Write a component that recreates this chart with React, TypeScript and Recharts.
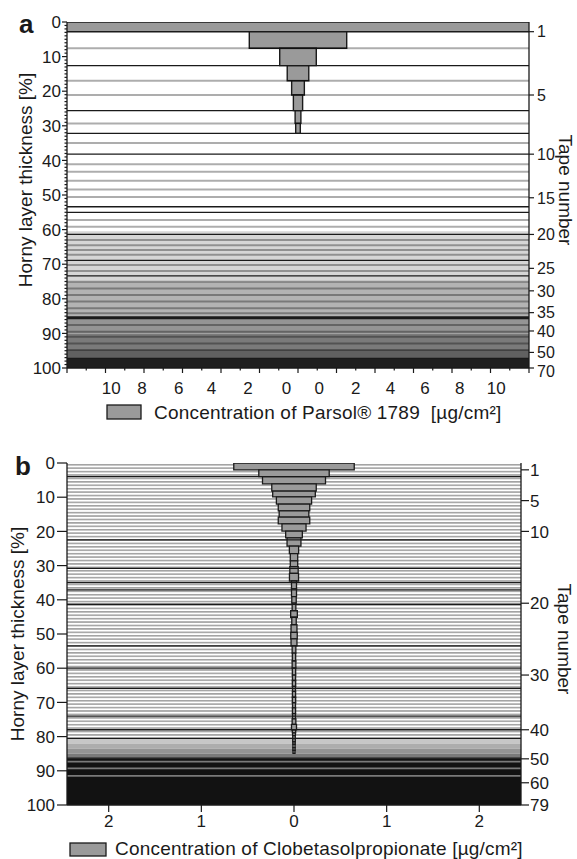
import { ComposedChart, XAxis, YAxis, ReferenceArea, ReferenceLine, Scatter } from 'recharts'

const FONT = '"Liberation Sans", Arial, Helvetica, sans-serif'
const INK = '#1a1a1a'
const BAR = '#9a9a9a'

// ---- panel a: Parsol 1789 ----
// cumulative horny layer thickness [%] at the end of each tape, and concentration per tape
const tapeEndA = [2.8, 7.6, 12.6, 17.0, 21.1, 25.6, 29.3, 32.2]
const concA = [13, 2.53, 0.95, 0.56, 0.33, 0.24, 0.15, 0.12]
const darkLinesA = [12.6, 25.6, 32.2, 38.2, 53.4, 55.0, 61.4, 68.9, 73.4, 97.2]
const heavyLinesA = [85.5]
const greyLinesA = [7.6, 17.0, 21.1, 29.3, 35.0, 41.1, 43.3, 45.9, 48.4, 50.6, 57.2, 59.2, 63.0, 64.5, 65.9, 67.3, 70.2, 72.0, 75.1, 77.0, 78.9, 80.8, 82.7, 84.2, 87.6, 89.5, 91.0, 92.9, 94.8]
const zoneFromA = [60.5, 75.0, 85.5, 90.0, 94.8, 97.2]
const zoneToA = [75.0, 85.5, 90.0, 94.8, 97.2, 100]
const zoneShadeA = [0.16, 0.3, 0.42, 0.52, 0.62, 0.88]
const depthTicks = [0, 10, 20, 30, 40, 50, 60, 70, 80, 90, 100]
const tapeTickDepthA = [2.8, 21.1, 38.2, 50.8, 61.4, 71.2, 77.7, 84.0, 89.3, 95.5, 100]
const tapeTickLabelA = ['1', '5', '10', '15', '20', '25', '30', '35', '40', '50', '70']
const concTickPosA = [-9.7, -8.1, -6.2, -4.5, -2.6, -0.6, 1.1, 3.0, 4.8, 6.6, 8.4, 10.3]
const concTickLabelA = ['10', '8', '6', '4', '2', '0', '0', '2', '4', '6', '8', '10']

// ---- panel b: Clobetasolpropionate ----
const tapeEndB = [2.0, 4.0, 6.1, 8.2, 9.9, 12.0, 14.0, 15.8, 17.8, 19.9, 21.9, 24.3, 26.5, 28.6, 30.3, 32.3, 34.5, 36.8, 39.1, 41.0, 43.2, 45.1, 47.3, 49.5, 51.4, 53.5, 55.6, 57.9, 60.0, 62.0, 63.6, 65.3, 66.8, 68.5, 70.1, 71.6, 73.3, 74.8, 76.4, 78.0, 78.9, 79.7, 80.6, 81.5, 82.3, 83.2, 84.0, 84.9]
const concB = [0.65, 0.38, 0.34, 0.24, 0.23, 0.19, 0.17, 0.16, 0.17, 0.13, 0.09, 0.075, 0.05, 0.04, 0.04, 0.045, 0.049, 0.027, 0.027, 0.024, 0.02, 0.036, 0.024, 0.032, 0.035, 0.032, 0.02, 0.018, 0.02, 0.018, 0.017, 0.018, 0.016, 0.017, 0.018, 0.016, 0.017, 0.016, 0.02, 0.027, 0.018, 0.015, 0.014, 0.014, 0.013, 0.012, 0.012, 0.011]
const darkLinesB = [4.0, 22.5, 30.8, 35.0, 37.1, 41.3, 53.5, 60.0, 65.9, 74.0, 78.0, 80.5, 86.3]
const lightLinesB = [87.3, 89.3, 91.5]
const stripedToB = 80.5
const zoneFromB = [80.5, 82.0, 83.5, 85.0, 86.3]
const zoneToB = [82.0, 83.5, 85.0, 86.3, 100]
const zoneShadeB = [0.22, 0.32, 0.42, 0.52, 0.93]
const tapeTickDepthB = [2.0, 11.0, 20.0, 41.0, 62.0, 78.0, 86.5, 93.5, 100]
const tapeTickLabelB = ['1', '5', '10', '20', '30', '40', '50', '60', '79']
const concTickPosB = [-2, -1, 0, 1, 2]
const concTickLabelB = ['2', '1', '0', '1', '2']

const rowsA = concA.map((c, i) => ({ conc: c, depth: tapeEndA[i] }))
const rowsB = concB.map((c, i) => ({ conc: c, depth: tapeEndB[i] }))

const grey = (s: number) => {
  const v = Math.round(255 * (1 - s))
  return `rgb(${v},${v},${v})`
}

function leftTick(labels: number[], majorLen: number, minorLen: number, gap: number) {
  return (p: any) => {
    const v = p.payload.value
    const major = labels.includes(v)
    return (
      <g>
        <line x1={p.x - (major ? majorLen : minorLen)} x2={p.x} y1={p.y} y2={p.y} stroke={INK} strokeWidth={1.2} />
        {major && (
          <text x={p.x - majorLen - gap} y={p.y} dy="0.36em" textAnchor="end" fontSize={17} fontFamily={FONT} fill={INK}>
            {v}
          </text>
        )}
      </g>
    )
  }
}

function rightTick(depths: number[], labels: string[], len: number, gap: number, size: number, lastShift: number) {
  return (p: any) => {
    const i = depths.indexOf(p.payload.value)
    const shift = i === depths.length - 1 ? lastShift : 0
    return (
      <g>
        <line x1={p.x} x2={p.x + len} y1={p.y} y2={p.y} stroke={INK} strokeWidth={1.2} />
        <text x={p.x + len + gap} y={p.y + shift} dy="0.36em" textAnchor="start" fontSize={size} fontFamily={FONT} fill={INK}>
          {labels[i]}
        </text>
      </g>
    )
  }
}

function bottomTick(majors: number[], minors: number[], labelPos: number[], labelText: string[], majorLen: number, minorLen: number, labelDy: number) {
  return (p: any) => {
    const v = p.payload.value
    const li = labelPos.indexOf(v)
    const len = majors.includes(v) ? majorLen : minors.includes(v) ? minorLen : 0
    return (
      <g>
        {len > 0 && <line x1={p.x} x2={p.x} y1={p.y} y2={p.y + len} stroke={INK} strokeWidth={1.2} />}
        {li >= 0 && (
          <text x={p.x} y={p.y + labelDy} dy="0.36em" textAnchor="middle" fontSize={17} fontFamily={FONT} fill={INK}>
            {labelText[li]}
          </text>
        )}
      </g>
    )
  }
}

// tick marks of panel a (labels sit a little off the marks in the original)
const marksMajorA = [-12, -10, -8, -6, -4, -2, 0, 2, 4, 6, 8, 10, 12]
const marksMinorA = [-11, -9, -7, -5, -3, -1, 1, 3, 5, 7, 9, 11]
const xTicksA = Array.from(new Set([...marksMajorA, ...marksMinorA, ...concTickPosA])).sort((a, b) => a - b)
const yMinorA = Array.from({ length: 101 }, (_, i) => i)

const noDot = () => <g />

function PanelA() {
  return (
    <ComposedChart width={577} height={400} data={rowsA} margin={{ top: 22, right: 8, bottom: 2, left: 27 }}>
      <XAxis dataKey="conc" type="number" domain={[-12, 12]} allowDataOverflow ticks={xTicksA} interval={0} height={30}
        tickSize={0} tickMargin={0} tickLine={false} axisLine={{ stroke: INK, strokeWidth: 1.3 }}
        tick={bottomTick(marksMajorA, marksMinorA, concTickPosA, concTickLabelA, 5, 2.5, 19.5)} />
      <YAxis dataKey="depth" type="number" domain={[0, 100]} reversed allowDataOverflow ticks={yMinorA} interval={0} width={40}
        tickSize={0} tickMargin={0} tickLine={false} axisLine={{ stroke: INK, strokeWidth: 1.3 }}
        tick={leftTick(depthTicks, 5, 2.5, 1)} />
      <YAxis yAxisId="tape" orientation="right" type="number" domain={[0, 100]} reversed allowDataOverflow
        ticks={tapeTickDepthA} interval={0} width={40} tickSize={0} tickMargin={0} tickLine={false}
        axisLine={{ stroke: INK, strokeWidth: 1.3 }} tick={rightTick(tapeTickDepthA, tapeTickLabelA, 5, 3, 16, 3)} />
      <Scatter dataKey="depth" shape={noDot} isAnimationActive={false} legendType="none" />

      {zoneFromA.map((f, i) => (
        <ReferenceArea key={'z' + i} x1={-12} x2={12} y1={f} y2={zoneToA[i]} fill={grey(zoneShadeA[i])} fillOpacity={1} stroke="none" ifOverflow="hidden" />
      ))}
      {greyLinesA.map((d) => (
        <ReferenceLine key={'g' + d} y={d} stroke="#000" strokeOpacity={0.32} strokeWidth={2} />
      ))}
      {darkLinesA.map((d) => (
        <ReferenceLine key={'d' + d} y={d} stroke={INK} strokeWidth={1.3} />
      ))}
      {heavyLinesA.map((d) => (
        <ReferenceLine key={'h' + d} y={d} stroke={INK} strokeWidth={3} />
      ))}
      {concA.map((c, i) => (
        <ReferenceArea key={'b' + i} x1={-c} x2={c} y1={i === 0 ? 0 : tapeEndA[i - 1]} y2={tapeEndA[i]}
          fill={BAR} fillOpacity={1} stroke={INK} strokeWidth={1.4} ifOverflow="hidden" />
      ))}
    </ComposedChart>
  )
}

function PanelB() {
  return (
    <ComposedChart width={577} height={400} data={rowsB} margin={{ top: 23, right: 8, bottom: 5, left: 27 }}>
      <XAxis dataKey="conc" type="number" domain={[-2.45, 2.45]} allowDataOverflow ticks={concTickPosB} interval={0} height={30}
        tickSize={0} tickMargin={0} tickLine={false} axisLine={{ stroke: INK, strokeWidth: 1.3 }}
        tick={bottomTick(concTickPosB, [], concTickPosB, concTickLabelB, 7, 0, 16)} />
      <YAxis dataKey="depth" type="number" domain={[0, 100]} reversed allowDataOverflow ticks={depthTicks} interval={0} width={40}
        tickSize={0} tickMargin={0} tickLine={false} axisLine={{ stroke: INK, strokeWidth: 1.3 }}
        tick={leftTick(depthTicks, 10, 0, 2)} />
      <YAxis yAxisId="tape" orientation="right" type="number" domain={[0, 100]} reversed allowDataOverflow
        ticks={tapeTickDepthB} interval={0} width={48} tickSize={0} tickMargin={0} tickLine={false}
        axisLine={{ stroke: INK, strokeWidth: 1.3 }} tick={rightTick(tapeTickDepthB, tapeTickLabelB, 8, 1, 17, 0)} />
      <Scatter dataKey="depth" shape={noDot} isAnimationActive={false} legendType="none" />

      <ReferenceArea x1={-2.45} x2={2.45} y1={0} y2={stripedToB} fill="url(#tapeStripes)" fillOpacity={1} stroke="none" ifOverflow="hidden" />
      {zoneFromB.map((f, i) => (
        <ReferenceArea key={'z' + i} x1={-2.45} x2={2.45} y1={f} y2={zoneToB[i]} fill={grey(zoneShadeB[i])} fillOpacity={1} stroke="none" ifOverflow="hidden" />
      ))}
      {lightLinesB.map((d) => (
        <ReferenceLine key={'l' + d} y={d} stroke="#7a7a7a" strokeWidth={1.8} />
      ))}
      {darkLinesB.map((d) => (
        <ReferenceLine key={'d' + d} y={d} stroke={INK} strokeWidth={1.3} />
      ))}
      {concB.map((c, i) => (
        <ReferenceArea key={'b' + i} x1={-c} x2={c} y1={i === 0 ? 0 : tapeEndB[i - 1]} y2={tapeEndB[i]}
          fill={BAR} fillOpacity={1} stroke={INK} strokeWidth={1.3} ifOverflow="hidden" />
      ))}
    </ComposedChart>
  )
}

export default function App() {
  return (
    <div style={{ position: 'absolute', left: 0, top: 0, width: 577, height: 859, background: '#fff', overflow: 'hidden' }}>
      <svg width={0} height={0} style={{ position: 'absolute' }}>
        <defs>
          <pattern id="tapeStripes" patternUnits="userSpaceOnUse" width={10} height={3.42}>
            <rect width={10} height={3.42} fill="#fff" />
            <rect y={0} width={10} height={1.6} fill="#a2a2a2" />
          </pattern>
        </defs>
      </svg>
      <div style={{ position: 'absolute', left: 0, top: 0 }}>
        <PanelA />
      </div>
      <div style={{ position: 'absolute', left: 0, top: 440 }}>
        <PanelB />
      </div>
      <svg width={577} height={859} style={{ position: 'absolute', left: 0, top: 0, pointerEvents: 'none' }} fontFamily={FONT} fill={INK}>
        <text x={19} y={33} fontSize={26} fontWeight="bold">a</text>
        <text x={15} y={475} fontSize={26} fontWeight="bold">b</text>
        <text transform="translate(32,180) rotate(-90)" textAnchor="middle" fontSize={19}>Horny layer thickness [%]</text>
        <text transform="translate(24,634) rotate(-90)" textAnchor="middle" fontSize={19}>Horny layer thickness [%]</text>
        <text transform="translate(559,190) rotate(90)" textAnchor="middle" fontSize={19}>Tape number</text>
        <text transform="translate(558,639) rotate(90)" textAnchor="middle" fontSize={19}>Tape number</text>
        <rect x={107} y={405} width={34} height={14} fill={BAR} stroke={INK} strokeWidth={1.3} />
        <text x={154} y={419} fontSize={19} letterSpacing={0.2}>{'Concentration of Parsol® 1789\u00a0 [µg/cm²]'}</text>
        <rect x={70} y={843} width={36} height={13} fill={BAR} stroke={INK} strokeWidth={1.3} />
        <text x={115} y={855} fontSize={19} letterSpacing={0.2}>Concentration of Clobetasolpropionate [µg/cm²]</text>
      </svg>
    </div>
  )
}
